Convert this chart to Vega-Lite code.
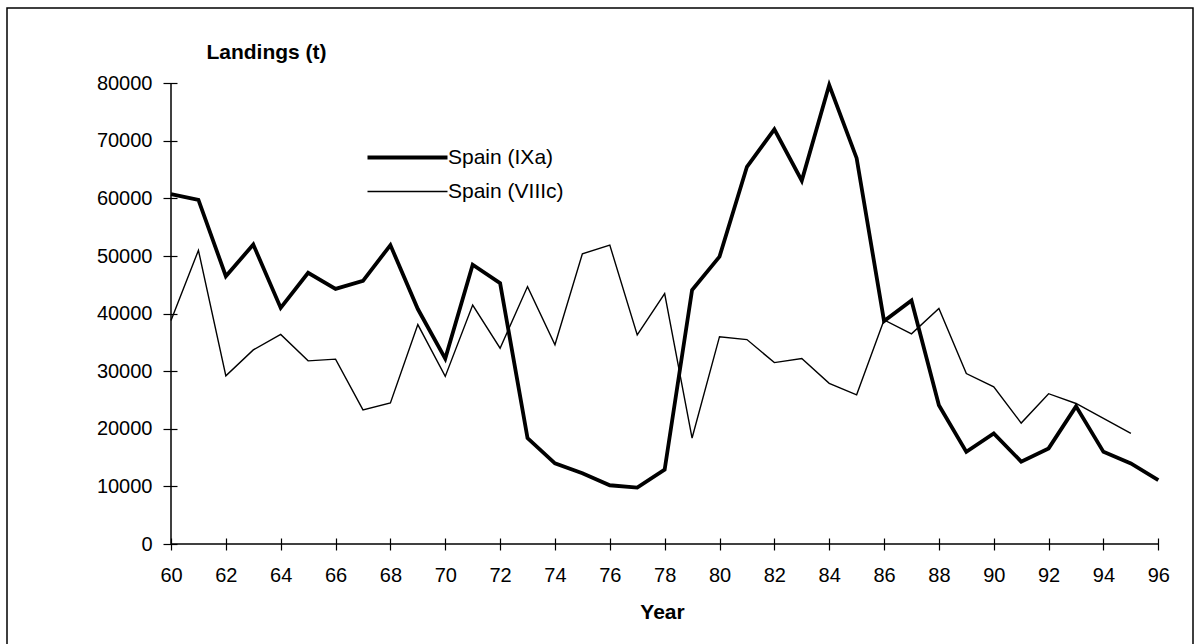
{
  "$schema": "https://vega.github.io/schema/vega-lite/v6.json",
  "width": 1186,
  "height": 640,
  "autosize": {"type": "none"},
  "padding": {"left": 7, "top": 8, "right": 3, "bottom": 0},
  "background": "white",
  "config": {
    "view": {"stroke": "black", "strokeWidth": 1.5},
    "font": "Liberation Sans",
    "axis": {"labelFont": "Liberation Sans", "titleFont": "Liberation Sans", "labelColor": "black", "titleColor": "black", "tickColor": "black"}
  },
  "data": {
    "values": [
      {"year": 60, "series": "Spain (IXa)", "value": 60750},
      {"year": 61, "series": "Spain (IXa)", "value": 59770},
      {"year": 62, "series": "Spain (IXa)", "value": 46500},
      {"year": 63, "series": "Spain (IXa)", "value": 52000},
      {"year": 64, "series": "Spain (IXa)", "value": 41000},
      {"year": 65, "series": "Spain (IXa)", "value": 47100},
      {"year": 66, "series": "Spain (IXa)", "value": 44300},
      {"year": 67, "series": "Spain (IXa)", "value": 45700},
      {"year": 68, "series": "Spain (IXa)", "value": 51900},
      {"year": 69, "series": "Spain (IXa)", "value": 40800},
      {"year": 70, "series": "Spain (IXa)", "value": 32200},
      {"year": 71, "series": "Spain (IXa)", "value": 48500},
      {"year": 72, "series": "Spain (IXa)", "value": 45300},
      {"year": 73, "series": "Spain (IXa)", "value": 18400},
      {"year": 74, "series": "Spain (IXa)", "value": 14000},
      {"year": 75, "series": "Spain (IXa)", "value": 12300},
      {"year": 76, "series": "Spain (IXa)", "value": 10200},
      {"year": 77, "series": "Spain (IXa)", "value": 9800},
      {"year": 78, "series": "Spain (IXa)", "value": 12900},
      {"year": 79, "series": "Spain (IXa)", "value": 44100},
      {"year": 80, "series": "Spain (IXa)", "value": 49900},
      {"year": 81, "series": "Spain (IXa)", "value": 65500},
      {"year": 82, "series": "Spain (IXa)", "value": 72000},
      {"year": 83, "series": "Spain (IXa)", "value": 63100},
      {"year": 84, "series": "Spain (IXa)", "value": 79700},
      {"year": 85, "series": "Spain (IXa)", "value": 67000},
      {"year": 86, "series": "Spain (IXa)", "value": 38700},
      {"year": 87, "series": "Spain (IXa)", "value": 42300},
      {"year": 88, "series": "Spain (IXa)", "value": 24100},
      {"year": 89, "series": "Spain (IXa)", "value": 16000},
      {"year": 90, "series": "Spain (IXa)", "value": 19200},
      {"year": 91, "series": "Spain (IXa)", "value": 14300},
      {"year": 92, "series": "Spain (IXa)", "value": 16600},
      {"year": 93, "series": "Spain (IXa)", "value": 23900},
      {"year": 94, "series": "Spain (IXa)", "value": 16000},
      {"year": 95, "series": "Spain (IXa)", "value": 14000},
      {"year": 96, "series": "Spain (IXa)", "value": 11100},
      {"year": 60, "series": "Spain (VIIIc)", "value": 38800},
      {"year": 61, "series": "Spain (VIIIc)", "value": 51000},
      {"year": 62, "series": "Spain (VIIIc)", "value": 29200},
      {"year": 63, "series": "Spain (VIIIc)", "value": 33700},
      {"year": 64, "series": "Spain (VIIIc)", "value": 36400},
      {"year": 65, "series": "Spain (VIIIc)", "value": 31800},
      {"year": 66, "series": "Spain (VIIIc)", "value": 32100},
      {"year": 67, "series": "Spain (VIIIc)", "value": 23300},
      {"year": 68, "series": "Spain (VIIIc)", "value": 24500},
      {"year": 69, "series": "Spain (VIIIc)", "value": 38100},
      {"year": 70, "series": "Spain (VIIIc)", "value": 29100},
      {"year": 71, "series": "Spain (VIIIc)", "value": 41500},
      {"year": 72, "series": "Spain (VIIIc)", "value": 34000},
      {"year": 73, "series": "Spain (VIIIc)", "value": 44700},
      {"year": 74, "series": "Spain (VIIIc)", "value": 34600},
      {"year": 75, "series": "Spain (VIIIc)", "value": 50400},
      {"year": 76, "series": "Spain (VIIIc)", "value": 51900},
      {"year": 77, "series": "Spain (VIIIc)", "value": 36300},
      {"year": 78, "series": "Spain (VIIIc)", "value": 43500},
      {"year": 79, "series": "Spain (VIIIc)", "value": 18400},
      {"year": 80, "series": "Spain (VIIIc)", "value": 36000},
      {"year": 81, "series": "Spain (VIIIc)", "value": 35500},
      {"year": 82, "series": "Spain (VIIIc)", "value": 31500},
      {"year": 83, "series": "Spain (VIIIc)", "value": 32200},
      {"year": 84, "series": "Spain (VIIIc)", "value": 27900},
      {"year": 85, "series": "Spain (VIIIc)", "value": 25900},
      {"year": 86, "series": "Spain (VIIIc)", "value": 38900},
      {"year": 87, "series": "Spain (VIIIc)", "value": 36500},
      {"year": 88, "series": "Spain (VIIIc)", "value": 40900},
      {"year": 89, "series": "Spain (VIIIc)", "value": 29600},
      {"year": 90, "series": "Spain (VIIIc)", "value": 27300},
      {"year": 91, "series": "Spain (VIIIc)", "value": 21000},
      {"year": 92, "series": "Spain (VIIIc)", "value": 26100},
      {"year": 93, "series": "Spain (VIIIc)", "value": 24400},
      {"year": 94, "series": "Spain (VIIIc)", "value": 21800},
      {"year": 95, "series": "Spain (VIIIc)", "value": 19200}
    ]
  },
  "layer": [
    {
      "mark": {"type": "line", "color": "black", "strokeJoin": "miter"},
      "encoding": {
        "x": {
          "field": "year", "type": "quantitative",
          "scale": {"domain": [54.02, 97.265], "nice": false, "zero": false},
          "axis": {
            "orient": "bottom", "offset": -110, "domain": false, "grid": false,
            "values": [60,61,62,63,64,65,66,67,68,69,70,71,72,73,74,75,76,77,78,79,80,81,82,83,84,85,86,87,88,89,90,91,92,93,94,95,96],
            "labelExpr": "datum.value % 2 === 0 ? format(datum.value, 'd') : ''",
            "tickSize": 12, "tickWidth": 1.2, "labelFontSize": 20, "labelPadding": 25, "labelBaseline": "middle",
            "labelFlush": false, "labelOverlap": false,
            "title": "Year", "titleFontSize": 21, "titleFontWeight": "bold",
            "titleX": 655, "titleY": 74, "titleAlign": "center", "titleBaseline": "middle"
          }
        },
        "y": {
          "field": "value", "type": "quantitative",
          "scale": {"domain": [-18059, 93076], "nice": false, "zero": false},
          "axis": {
            "orient": "left", "offset": -170, "domain": false, "grid": false,
            "values": [0,10000,20000,30000,40000,50000,60000,70000,80000],
            "format": "d",
            "tickSize": 14, "tickWidth": 1.2, "labelFontSize": 20, "labelPadding": 11,
            "labelFlush": false, "labelOverlap": false,
            "title": "Landings (t)", "titleFontSize": 21, "titleFontWeight": "bold", "titleAngle": 0,
            "titleX": 89, "titleY": 44, "titleAlign": "center", "titleBaseline": "middle"
          }
        },
        "strokeWidth": {
          "field": "series", "type": "nominal",
          "scale": {"domain": ["Spain (IXa)", "Spain (VIIIc)"], "range": [3.8, 1.4]},
          "legend": {
            "title": null, "orient": "none", "legendX": 390, "legendY": 139, "padding": 0,
            "symbolType": "M-8,0H8", "symbolSize": 100, "symbolStrokeColor": "black", "symbolFillColor": "transparent",
            "labelOffset": 30, "labelFontSize": 21, "labelFont": "Liberation Sans", "labelColor": "black",
            "rowPadding": 12
          }
        }
      }
    },
    {
      "data": {"values": [{}]},
      "mark": {"type": "rule", "color": "black", "strokeWidth": 1.5},
      "encoding": {
        "x": {"datum": 60, "type": "quantitative"},
        "x2": {"datum": 96},
        "y": {"datum": 0, "type": "quantitative"}
      }
    },
    {
      "data": {"values": [{}]},
      "mark": {"type": "rule", "color": "black", "strokeWidth": 1.5},
      "encoding": {
        "x": {"datum": 60, "type": "quantitative"},
        "y": {"datum": 0, "type": "quantitative"},
        "y2": {"datum": 80000}
      }
    }
  ]
}
